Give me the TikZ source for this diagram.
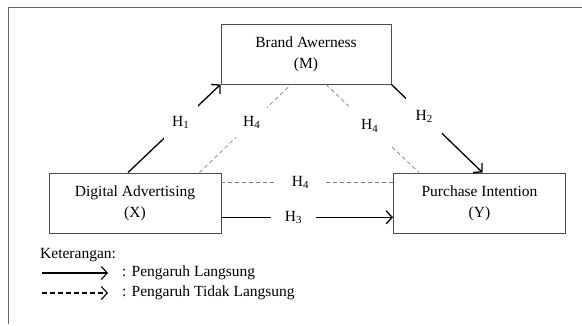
\documentclass[tikz,border=0pt]{standalone}
\usepackage{fontspec}
\setmainfont{Liberation Serif}
\usetikzlibrary{arrows.meta}

\tikzset{
  var/.style={draw=black!70, line width=0.9pt, minimum width=172pt, minimum height=60pt, align=center},
  direct/.style={line width=1.3pt, -{Straight Barb[length=6pt,width=13pt]}},
  indirect/.style={draw=black!50, line width=0.7pt, dash pattern=on 4pt off 3pt},
  hyp/.style={fill=white, inner sep=0pt, minimum width=#1, minimum height=#1},
}

\begin{document}
\begin{tikzpicture}[x=1pt,y=-1pt,font=\fontsize{15.5}{20.7}\selectfont]
\useasboundingbox (0,0) rectangle (582,326);
% Frame
\draw[black!60, line width=1pt] (8,324) -- (8,8) -- (582,8);

% Variables
\node[var, minimum width=170pt] (brand) at (306,54) {Brand Awerness\\(M)};
\node[var] (dig) at (135,203) {Digital Advertising\\(X)};
\node[var] (pur) at (479.5,203) {Purchase Intention\\(Y)};

% Direct effects
\draw[direct] ([xshift=-7pt]dig.north) -- node[hyp=34pt, pos=0.57]{H\textsubscript{1}} (brand.south west);
\draw[direct] (brand.south east) -- node[hyp=36pt, pos=0.36]{H\textsubscript{2}} ([xshift=3pt]pur.north);
\draw[direct] ([yshift=-14.3pt]dig.east) -- node[hyp=45pt, minimum height=14pt, pos=0.42]{H\textsubscript{3}} ([yshift=-14.3pt]pur.west);

% Indirect effects
\draw[indirect] ([xshift=-22pt]dig.north east) -- node[hyp=31pt, pos=0.57, text=black]{H\textsubscript{4}} ([xshift=-15pt]brand.south);
\draw[indirect] ([xshift=20pt]brand.south) -- node[hyp=41pt, pos=0.47, text=black]{H\textsubscript{4}} ([xshift=-60.5pt]pur.north);
\draw[indirect] ([yshift=20.7pt]dig.east) -- node[hyp=48pt, minimum height=14pt, pos=0.46, text=black]{H\textsubscript{4}} ([yshift=20.7pt]pur.west);

% Legend
\node[anchor=west, inner sep=0pt] (ket) at (40,255) {Keterangan:};
\node[anchor=west, inner sep=0pt] (ldirect) at (122,273) {: Pengaruh Langsung};
\node[anchor=west, inner sep=0pt] (lindirect) at (122,293) {: Pengaruh Tidak Langsung};
\coordinate (ld0) at (42,273);
\coordinate (li0) at (42,293);
\draw[direct, line width=1.1pt] (ld0) -- ([xshift=-14pt]ldirect.west);
\draw[direct, line width=1.1pt, dash pattern=on 4.5pt off 3.5pt] (li0) -- ([xshift=-14pt]lindirect.west);
\end{tikzpicture}
\end{document}
